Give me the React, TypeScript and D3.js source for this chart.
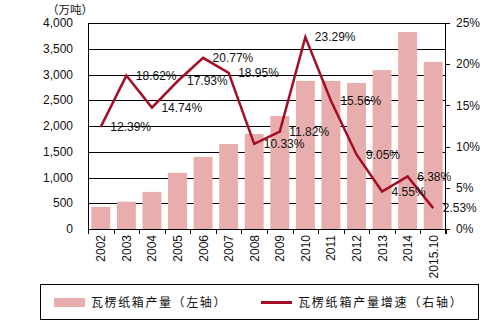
import React from 'react';
import * as d3 from 'd3';

const categories = ['2002','2003','2004','2005','2006','2007','2008','2009','2010','2011','2012','2013','2014','2015.10'];
const output = [430, 530, 720, 1090, 1400, 1650, 1845, 2195, 2875, 2875, 2835, 3085, 3825, 3245];
const growth = [12.39, 18.62, 14.74, 17.93, 20.77, 18.95, 10.33, 11.82, 23.29, 15.56, 9.05, 4.55, 6.38, 2.53];
const leftTicks = [0, 500, 1000, 1500, 2000, 2500, 3000, 3500, 4000];
const rightTicks = [0, 5, 10, 15, 20, 25];
const unitLabel = '（万吨）';
const legendBar = '瓦楞纸箱产量（左轴）';
const legendLine = '瓦楞纸箱产量增速（右轴）';

const W = 504, H = 326;
const L = 88, R = 446, T = 23, B = 229;
const BAR = '#E7AEAD';
const LINE = '#A50D26';
const FONT = '"Liberation Sans", Arial, sans-serif';
const CJK = '"Noto Sans CJK SC", sans-serif';

export default function App() {
  const x = d3.scaleBand<string>().domain(categories).range([L, R]).paddingInner(0.26).paddingOuter(0.13);
  const yL = d3.scaleLinear().domain([0, 4000]).range([B, T]);
  const yR = d3.scaleLinear().domain([0, 25]).range([B, T]);
  const step = x.step();
  const bw = x.bandwidth();
  const cx = (c: string) => (x(c) as number) + bw / 2;
  const line = d3.line<number>().x((_, i) => cx(categories[i])).y((d) => yR(d));
  const fmt = d3.format(',');
  const boundaries = d3.range(categories.length + 1).map((i) => L + i * step);

  return (
    <svg width={W} height={H} style={{ position: 'absolute', left: 0, top: 0, background: '#fff' }} xmlns="http://www.w3.org/2000/svg">
      <rect x={0} y={0} width={W} height={H} fill="#fff" />
      {/* gridlines */}
      {leftTicks.map((t) => (
        <line key={'g' + t} x1={L} x2={R} y1={Math.round(yL(t)) + 0.5} y2={Math.round(yL(t)) + 0.5} stroke="#000" strokeWidth={1} />
      ))}
      {/* bars */}
      {output.map((v, i) => (
        <rect key={'b' + i} x={x(categories[i])} y={yL(v)} width={bw} height={B - yL(v)} fill={BAR} />
      ))}
      {/* axes */}
      <line x1={L + 0.5} x2={L + 0.5} y1={T} y2={B + 5} stroke="#000" />
      <line x1={R - 0.5} x2={R - 0.5} y1={T} y2={B + 5} stroke="#000" />
      <line x1={L} x2={R} y1={B + 0.5} y2={B + 0.5} stroke="#000" />
      {boundaries.map((bx, i) => (
        <line key={'xt' + i} x1={Math.round(bx) + 0.5} x2={Math.round(bx) + 0.5} y1={B} y2={B + 5} stroke="#000" />
      ))}
      {rightTicks.map((t) => (
        <line key={'rt' + t} x1={R} x2={R + 4} y1={Math.round(yR(t)) + 0.5} y2={Math.round(yR(t)) + 0.5} stroke="#000" />
      ))}
      {/* tick labels */}
      {leftTicks.map((t) => (
        <text key={'lt' + t} x={73} y={yL(t)} dy="0.35em" textAnchor="end" fontFamily={FONT} fontSize={12} fill="#111">{fmt(t)}</text>
      ))}
      {rightTicks.map((t) => (
        <text key={'rl' + t} x={456} y={yR(t)} dy="0.35em" textAnchor="start" fontFamily={FONT} fontSize={12} fill="#111">{t + '%'}</text>
      ))}
      {categories.map((c) => (
        <text key={'xl' + c} transform={`translate(${cx(c) + 4.5},235) rotate(-90)`} textAnchor="end" fontFamily={FONT} fontSize={12} fill="#111">{c}</text>
      ))}
      <text x={47} y={14} fontFamily={CJK} fontSize={11.5} fill="#111">{unitLabel}</text>
      {/* line */}
      <path d={line(growth) as string} fill="none" stroke={LINE} strokeWidth={2.5} strokeLinejoin="miter" />
      {growth.map((g, i) => (
        <text key={'dl' + i} x={cx(categories[i]) + 9.5} y={yR(g)} dy="0.35em" fontFamily={FONT} fontSize={12} fill="#111">{g.toFixed(2) + '%'}</text>
      ))}
      {/* legend */}
      <rect x={40.5} y={284.5} width={438} height={35} fill="#fff" stroke="#000" strokeWidth={1} />
      <rect x={54} y={298} width={31} height={9} fill={BAR} />
      <text x={91} y={302.5} dy="0.35em" fontFamily={CJK} fontSize={12} letterSpacing={1.6} fill="#111">{legendBar}</text>
      <line x1={261} x2={292} y1={302.5} y2={302.5} stroke={LINE} strokeWidth={3} />
      <text x={298} y={302.5} dy="0.35em" fontFamily={CJK} fontSize={12} letterSpacing={1.8} fill="#111">{legendLine}</text>
    </svg>
  );
}
